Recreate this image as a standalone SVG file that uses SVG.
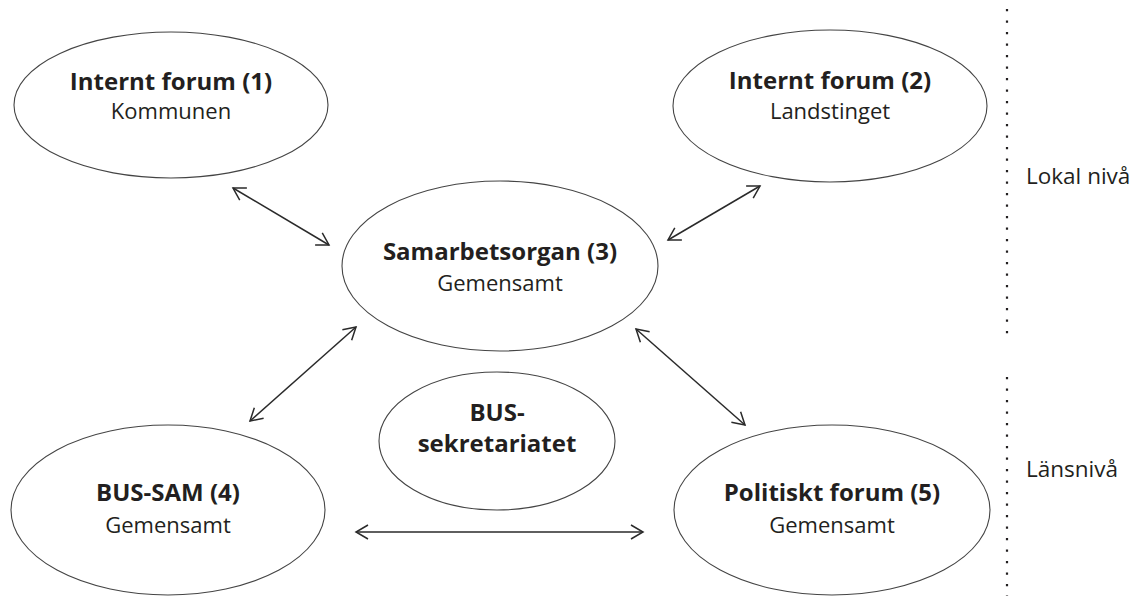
<svg xmlns="http://www.w3.org/2000/svg" width="1131" height="596" viewBox="0 0 1131 596">
<defs>
<style>
.node ellipse{fill:#fff;stroke:#444;stroke-width:1.1}
.t{font-family:"Open Sans","Noto Sans","Liberation Sans",sans-serif;fill:#231f20;text-anchor:middle}
.b{font-weight:bold;font-size:24px}
.r{font-size:22px;font-weight:normal}
.side{font-family:"Open Sans","Noto Sans","Liberation Sans",sans-serif;fill:#231f20;font-size:22.5px;font-weight:normal}
.conn line{stroke:#2a2a2a;stroke-width:1.5;fill:none;marker-start:url(#ah);marker-end:url(#ah)}
.dots{stroke:#231f20;stroke-width:2.2;stroke-dasharray:2.2 9.3}
</style>
<marker id="ah" viewBox="-14 -9 16 18" refX="0" refY="0" markerWidth="16" markerHeight="18" markerUnits="userSpaceOnUse" orient="auto-start-reverse">
<path d="M-12,-7 L0,0 L-12,7" fill="none" stroke="#2a2a2a" stroke-width="1.5"/>
</marker>
</defs>
<rect width="1131" height="596" fill="#fff"/>
<g id="n1" class="node">
<ellipse cx="171" cy="105" rx="157" ry="73"/>
<text class="t b" x="171" y="90">Internt forum (1)</text>
<text class="t r" x="171" y="119">Kommunen</text>
</g>
<g id="n2" class="node">
<ellipse cx="830" cy="106" rx="157" ry="76"/>
<text class="t b" x="830" y="89">Internt forum (2)</text>
<text class="t r" x="830" y="119">Landstinget</text>
</g>
<g id="n3" class="node">
<ellipse cx="500" cy="266" rx="158" ry="85"/>
<text class="t b" x="500" y="260">Samarbetsorgan (3)</text>
<text class="t r" x="500" y="291">Gemensamt</text>
</g>
<g id="n4" class="node">
<ellipse cx="168" cy="510" rx="157" ry="85"/>
<text class="t b" x="168" y="501">BUS-SAM (4)</text>
<text class="t r" x="168" y="533">Gemensamt</text>
</g>
<g id="n6" class="node">
<ellipse cx="497" cy="441" rx="118" ry="69"/>
<text class="t b" x="497" y="421">BUS-</text>
<text class="t b" x="497" y="452">sekretariatet</text>
</g>
<g id="n5" class="node">
<ellipse cx="832" cy="510" rx="158" ry="85"/>
<text class="t b" x="832" y="501">Politiskt forum (5)</text>
<text class="t r" x="832" y="533">Gemensamt</text>
</g>
<g id="connectors" class="conn">
<line x1="233" y1="188" x2="329" y2="245"/>
<line x1="668" y1="240" x2="760" y2="186"/>
<line x1="250" y1="421" x2="356" y2="327"/>
<line x1="636" y1="329" x2="745" y2="425"/>
<line x1="356" y1="532" x2="643" y2="532"/>
</g>
<g id="levels">
<line class="dots" x1="1007" y1="9" x2="1007" y2="334"/>
<line class="dots" x1="1007" y1="377" x2="1007" y2="596"/>
<text class="side" x="1026" y="184">Lokal nivå</text>
<text class="side" x="1026" y="477">Länsnivå</text>
</g>
</svg>
